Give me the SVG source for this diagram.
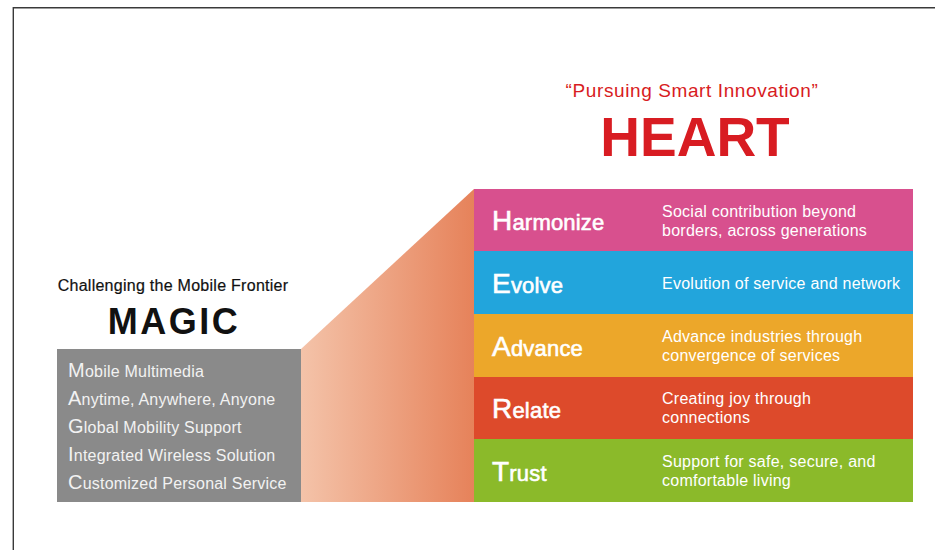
<svg xmlns="http://www.w3.org/2000/svg" width="935" height="550" viewBox="0 0 935 550">
  <defs>
    <linearGradient id="fan" x1="0" y1="0" x2="1" y2="0">
      <stop offset="0" stop-color="#f4c3a9"/>
      <stop offset="1" stop-color="#e6825a"/>
    </linearGradient>
  </defs>
  <style>
    text { font-family: "Liberation Sans", Arial, sans-serif; }
    .frame { stroke: #3a3a3a; stroke-width: 1.4; fill: none; }
    .item { fill: #f2f2f2; font-size: 16px; letter-spacing: 0.22px; }
    .item .cap { font-size: 20px; }
    .title { fill: #ffffff; stroke: #ffffff; stroke-width: 0.6px; font-size: 22px; letter-spacing: 0.2px; }
    .title .cap { font-size: 28px; }
    .desc { fill: #ffffff; font-size: 16px; letter-spacing: 0.25px; }
    .red { fill: #d81c22; }
  </style>
  <rect width="935" height="550" fill="#ffffff"/>
  <path class="frame" d="M13.3 550 V7.8 H935"/>

  <g id="connectors">
    <polygon points="301,349 474,189 474,502 301,502" fill="url(#fan)"/>
  </g>

  <g id="heart-header">
    <text class="red" x="692" y="97" font-size="19" letter-spacing="0.6" text-anchor="middle">“Pursuing Smart Innovation”</text>
    <text class="red" x="695" y="156" font-size="55" font-weight="bold" text-anchor="middle">HEART</text>
  </g>

  <g id="magic">
    <text x="173" y="291" font-size="16" letter-spacing="0.27" fill="#111111" stroke="#111111" stroke-width="0.2" text-anchor="middle">Challenging the Mobile Frontier</text>
    <text x="174" y="334" font-size="36" font-weight="bold" letter-spacing="2.5" fill="#111111" text-anchor="middle">MAGIC</text>
    <rect x="57" y="349" width="244" height="153" fill="#8a8a8a"/>
    <text class="item" x="68" y="377"><tspan class="cap">M</tspan>obile Multimedia</text>
    <text class="item" x="68" y="405"><tspan class="cap">A</tspan>nytime, Anywhere, Anyone</text>
    <text class="item" x="68" y="433"><tspan class="cap">G</tspan>lobal Mobility Support</text>
    <text class="item" x="68" y="461"><tspan class="cap">I</tspan>ntegrated Wireless Solution</text>
    <text class="item" x="68" y="489"><tspan class="cap">C</tspan>ustomized Personal Service</text>
  </g>

  <g id="harmonize">
    <rect x="474" y="189" width="439" height="62" fill="#d8508e"/>
    <text class="title" x="492" y="230"><tspan class="cap">H</tspan>armonize</text>
    <text class="desc" x="662" y="217">Social contribution beyond</text>
    <text class="desc" x="662" y="236">borders, across generations</text>
  </g>

  <g id="evolve">
    <rect x="474" y="251" width="439" height="63" fill="#22a5dc"/>
    <text class="title" x="492" y="293"><tspan class="cap">E</tspan>volve</text>
    <text class="desc" x="662" y="289">Evolution of service and network</text>
  </g>

  <g id="advance">
    <rect x="474" y="314" width="439" height="63" fill="#eca72a"/>
    <text class="title" x="492" y="356"><tspan class="cap">A</tspan>dvance</text>
    <text class="desc" x="662" y="342">Advance industries through</text>
    <text class="desc" x="662" y="361">convergence of services</text>
  </g>

  <g id="relate">
    <rect x="474" y="377" width="439" height="62" fill="#dd4a2b"/>
    <text class="title" x="492" y="418"><tspan class="cap">R</tspan>elate</text>
    <text class="desc" x="662" y="404">Creating joy through</text>
    <text class="desc" x="662" y="423">connections</text>
  </g>

  <g id="trust">
    <rect x="474" y="439" width="439" height="63" fill="#8bba2a"/>
    <text class="title" x="492" y="481"><tspan class="cap">T</tspan>rust</text>
    <text class="desc" x="662" y="467">Support for safe, secure, and</text>
    <text class="desc" x="662" y="486">comfortable living</text>
  </g>
</svg>
